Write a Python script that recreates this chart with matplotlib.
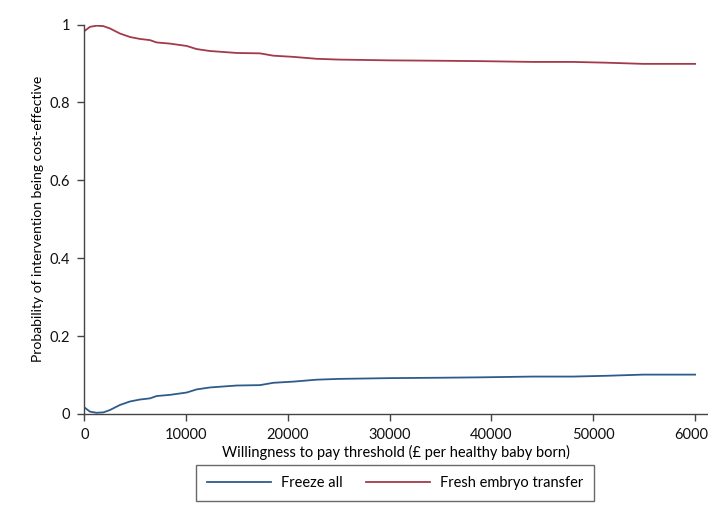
import matplotlib.pyplot as plt

plt.rcParams['font.family'] = ['Lato', 'DejaVu Sans']

# Willingness to pay threshold (GBP per healthy baby born)
wtp = [0, 560, 1200, 1870, 2520, 3500, 4490, 5470, 6450, 7110, 8420, 10060,
       11040, 12350, 14970, 17260, 18570, 20530, 22830, 25000, 30000, 35000,
       38900, 44100, 48000, 51300, 54900, 60000]

# Probability of being cost-effective
fresh = [0.983, 0.994, 0.997, 0.996, 0.990, 0.977, 0.968, 0.963, 0.960, 0.954,
         0.951, 0.945, 0.937, 0.932, 0.927, 0.926, 0.920, 0.917, 0.912, 0.910,
         0.908, 0.907, 0.906, 0.904, 0.904, 0.902, 0.899, 0.899]
freeze = [0.017, 0.006, 0.003, 0.004, 0.010, 0.023, 0.032, 0.037, 0.040, 0.046,
          0.049, 0.055, 0.063, 0.068, 0.073, 0.074, 0.080, 0.083, 0.088, 0.090,
          0.092, 0.093, 0.094, 0.096, 0.096, 0.098, 0.101, 0.101]

x_ticks = [0, 10000, 20000, 30000, 40000, 50000, 60000]
y_ticks = [0, 0.2, 0.4, 0.6, 0.8, 1]
y_ticklabels = ['0', '0.2', '0.4', '0.6', '0.8', '1']

blue = '#2e5c8a'
red = '#a23a4a'
axis_col = '#444444'

fig = plt.figure(figsize=(7.08, 5.22), dpi=100)
ax = fig.add_axes([0.119, 0.207, 0.880, 0.746])

ax.plot(wtp, freeze, color=blue, lw=1.3, label='Freeze all')
ax.plot(wtp, fresh, color=red, lw=1.3, label='Fresh embryo transfer')

ax.set_xlim(0, 61200)
ax.set_ylim(0, 1)
ax.set_xticks(x_ticks)
ax.set_yticks(y_ticks)
ax.set_yticklabels(y_ticklabels)

for s in ['top', 'right']:
    ax.spines[s].set_visible(False)
for s in ['left', 'bottom']:
    ax.spines[s].set_color(axis_col)
    ax.spines[s].set_linewidth(1.0)
ax.tick_params(colors=axis_col, labelcolor='#111111', labelsize=10.5,
               length=5, width=1.0, direction='out', pad=5)

ax.set_xlabel('Willingness to pay threshold (£ per healthy baby born)',
              fontsize=10.5, labelpad=2)
ax.set_ylabel('Probability of intervention being cost-effective',
              fontsize=10, labelpad=4)

leg = fig.legend(loc='center', bbox_to_anchor=(395 / 708, 1 - 483 / 522),
                 ncol=2, frameon=True, fancybox=False, fontsize=10.5,
                 handlelength=4.4, handletextpad=0.7, columnspacing=1.6,
                 borderpad=0.75)
leg.get_frame().set_edgecolor(axis_col)
leg.get_frame().set_linewidth(1.0)

fig.savefig('out.png', dpi=100)
